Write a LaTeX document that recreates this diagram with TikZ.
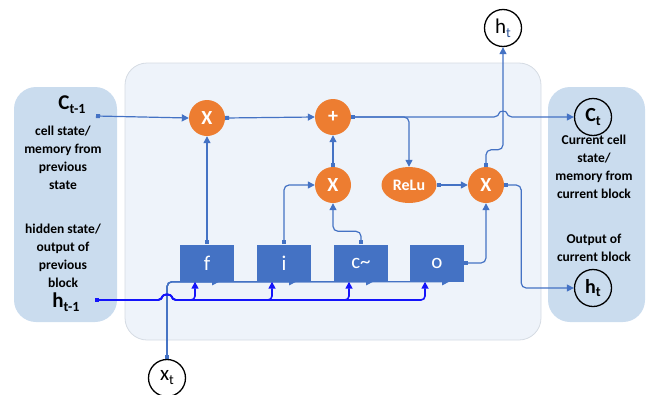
\documentclass[tikz,border=0pt]{standalone}
\usepackage{fontspec}
\setmainfont{Carlito}
\usetikzlibrary{arrows.meta}
\usetikzlibrary{shapes.geometric}
\definecolor{panelfill}{HTML}{EEF3FA}
\definecolor{panelline}{HTML}{D5DBE3}
\definecolor{sidefill}{HTML}{CADCEE}
\definecolor{opfill}{HTML}{ED7D31}
\definecolor{gatefill}{HTML}{4472C4}
\definecolor{hblue}{HTML}{1414FA}
\definecolor{subblue}{HTML}{2F5597}
\newcommand{\lowtext}[2][13]{\raisebox{-0.4ex}{\fontsize{#1}{#1}\selectfont #2}}
\pgfdeclarelayer{back}
\pgfsetlayers{back,main}
\tikzset{
  opnode/.style={circle, fill=opfill, text=white, minimum size=36pt, inner sep=0pt, font=\fontsize{20}{20}\bfseries\selectfont},
  relunode/.style={ellipse, fill=opfill, text=white, minimum width=55pt, minimum height=36pt, inner sep=0pt, font=\fontsize{16}{16}\bfseries\selectfont},
  gatebox/.style={rectangle, fill=gatefill, text=white, minimum width=54pt, minimum height=37pt, inner sep=0pt, font=\fontsize{21}{21}\selectfont},
  iobubble/.style={circle, draw=black, line width=1.3pt, minimum size=37pt, inner sep=0pt, font=\fontsize{21}{21}\selectfont},
  sidetext/.style={align=center, inner sep=0pt, font=\fontsize{13.5}{18}\bfseries\selectfont},
  bigtext/.style={inner sep=0pt, font=\fontsize{21}{21}\bfseries\selectfont},
  flow/.style={gatefill, line width=1.2pt, rounded corners=5pt, {Square[length=4pt,width=4pt]}-{Triangle[length=7pt,width=7pt]}},
  hflow/.style={hblue, line width=1.6pt, rounded corners=4pt, {Square[length=4pt,width=4pt]}-{Triangle[length=7pt,width=7pt]}},
}

\begin{document}
\begin{tikzpicture}[x=1pt,y=-1pt]
\useasboundingbox (0,0) rectangle (650,394);
\begin{pgfonlayer}{back}
\draw[fill=panelfill, draw=panelline, line width=0.8pt, rounded corners=22pt] (125,63) rectangle (541,340);
\fill[sidefill, rounded corners=22pt] (14,87) rectangle (117,322);
\fill[sidefill, rounded corners=22pt] (548,87) rectangle (645,322);
\end{pgfonlayer}

\node[bigtext] (cprev) at (72,105) {C\lowtext[14]{t-1}};
\node[sidetext] (cprevtxt) at (63,158) {cell state/\\memory from\\previous\\state};
\node[sidetext] (hprevtxt) at (63,256) {hidden state/\\output of\\previous\\block};
\node[bigtext] (hprev) at (66,302) {h\lowtext[14]{t-1}};
\coordinate (cdot) at (96,116);
\coordinate (hdot) at (95,300);

\node[sidetext] (curtxt) at (594,167) {Current cell\\state/\\memory from\\current block};
\node[sidetext] (outtxt) at (594,248) {Output of\\current block};
\node[iobubble, font=\fontsize{20}{20}\bfseries\selectfont] (ccur) at (593,117) {C\lowtext[14]{t}};
\node[iobubble, font=\fontsize{20}{20}\bfseries\selectfont] (hout) at (593,288) {h\lowtext[14]{t}};
\node[iobubble] (htop) at (503,28) {h\lowtext[14]{\color{subblue}t}};
\node[iobubble] (xt) at (167,378) {x\lowtext[14]{t}};

\node[opnode] (xf) at (207,118) {X};
\node[opnode] (plus) at (333,117) {+};
\node[opnode] (xi) at (333,185) {X};
\node[relunode] (relu) at (409,185) {ReLu};
\node[opnode] (xo) at (486,185) {X};

\node[gatebox] (fgate) at (207,263) {f};
\node[gatebox] (igate) at (284,263) {i};
\node[gatebox] (cgate) at (361,263) {c\textasciitilde};
\node[gatebox] (ogate) at (437,263) {o};

\begin{pgfonlayer}{back}
\foreach \g in {fgate,igate,cgate,ogate}
  \draw[flow] (xt.north) |- ([xshift=-15pt]\g.south east);
\end{pgfonlayer}

\foreach \g in {fgate,igate,cgate,ogate}
  \draw[hflow] (hdot) -- (162,300) .. controls (163,294) and (171,294) .. (172,300) -| ([xshift=-12pt]\g.south);

\draw[flow] (cdot) -- (xf.west);
\draw[flow] (xf.east) -- (plus.west);
\draw[flow] (plus.east) -- (499,117) .. controls (500,111) and (506,111) .. (507,117) -- (ccur.west);
\draw[flow] (plus.east) -| (relu.north);
\draw[flow] (xi.north) -- (plus.south);
\draw[flow] (relu.east) -- (xo.west);
\draw[flow] (xo.north) -- ++(0,-17) -| (htop.south);
\draw[flow] (xo.east) -- ++(17,0) |- (hout.west);
\draw[flow] (fgate.north) -- (xf.south);
\draw[flow] (igate.north) |- (xi.west);
\draw[flow] (cgate.north) -- ++(0,-13) -| (xi.south);
\draw[flow] (ogate.east) -| (xo.south);
\end{tikzpicture}
\end{document}
